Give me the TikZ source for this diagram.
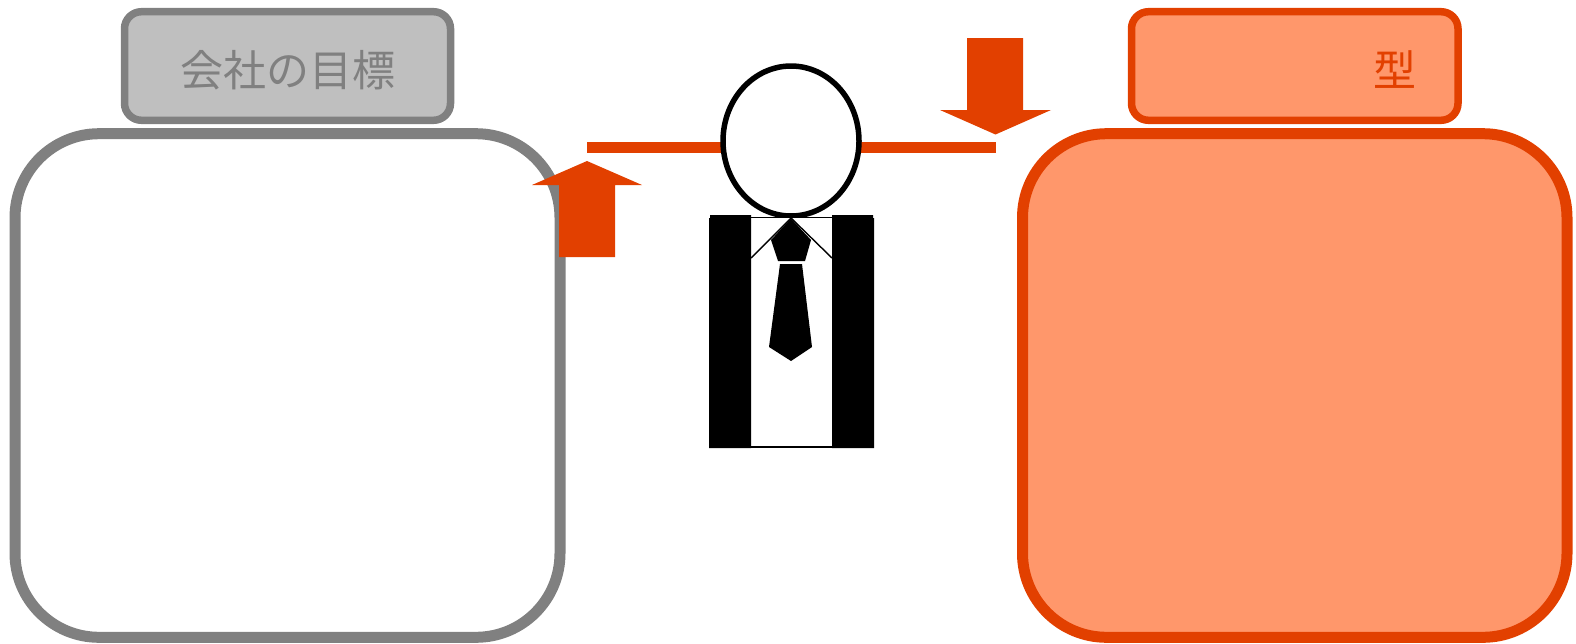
\documentclass[tikz,border=0pt]{standalone}
\usepackage{fontspec}
\usetikzlibrary{shapes.geometric}
\newfontfamily\jpfont{Noto Sans CJK JP}
\definecolor{accent}{HTML}{E24000}
\definecolor{accentfill}{HTML}{FF976B}
\definecolor{graystroke}{HTML}{808080}
\definecolor{grayfill}{HTML}{BFBFBF}
\tikzset{
  smallbox/.style={rounded corners=17pt,line width=7.5pt},
  bigbox/.style={rounded corners=84pt,line width=11pt},
  blackfill/.style={fill=black,draw=none},
  arrowfill/.style={fill=accent,draw=none},
  label/.style={font=\jpfont\fontsize{43}{50}\selectfont,inner sep=0pt},
}
\begin{document}
\begin{tikzpicture}[x=1pt,y=-1pt]
\useasboundingbox (0,0) rectangle (1576,643);
% left
\draw[bigbox,draw=graystroke,fill=white] (15,133.7) rectangle (560,637.3);
\draw[smallbox,draw=graystroke,fill=grayfill] (124.5,11.7) rectangle (450.5,120.3);
\node[label,text=graystroke] (goal) at (288,70) {会社の目標};
% right
\draw[bigbox,draw=accent,fill=accentfill] (1022.5,133.7) rectangle (1567,637.3);
\draw[smallbox,draw=accent,fill=accentfill] (1131.5,11.7) rectangle (1458,120.3);
\node[label,text=accent] (kata) at (1395,70) {型};
% head and horizontal bar
\coordinate (barL) at (587,147.5);
\coordinate (barR) at (996,147.5);
\draw[accent,line width=11pt] (barL) -- (barR);
\node[draw=black,fill=white,ellipse,inner sep=0pt,line width=5.5pt,
  minimum width=136pt,minimum height=150pt] (headA) at (791,141) {};
% arrows
\fill[arrowfill] (587,161) -- (642,185) -- (615,185) -- (615,257) -- (559,257) -- (559,185) -- (532,185) -- cycle;
\fill[arrowfill] (967,38) -- (1023,38) -- (1023,110) -- (1051,110) -- (995.5,134.5) -- (940,110) -- (967,110) -- cycle;
% body
\fill[white] (751,218) rectangle (832,446);
\draw[black,line width=1pt] (751,217.5) -- (832,217.5);
\draw[black,line width=1.5pt] (751,447) -- (832,447);
\fill[blackfill] (709,218) -- (710,218) -- (710,215) -- (751,215) -- (751,448) -- (709,448) -- cycle;
\fill[blackfill] (874,218) -- (873,218) -- (873,215) -- (832,215) -- (832,448) -- (874,448) -- cycle;
\draw[black,line width=1.4pt] (751,258) -- (791,218) -- (832,258);
\fill[blackfill] (791,218.5) -- (811,240) -- (805,261) -- (778,261) -- (771,240) -- cycle;
\fill[blackfill] (780,264) -- (802,264) -- (812,347) -- (791,361) -- (769,347) -- cycle;
\end{tikzpicture}
\end{document}
